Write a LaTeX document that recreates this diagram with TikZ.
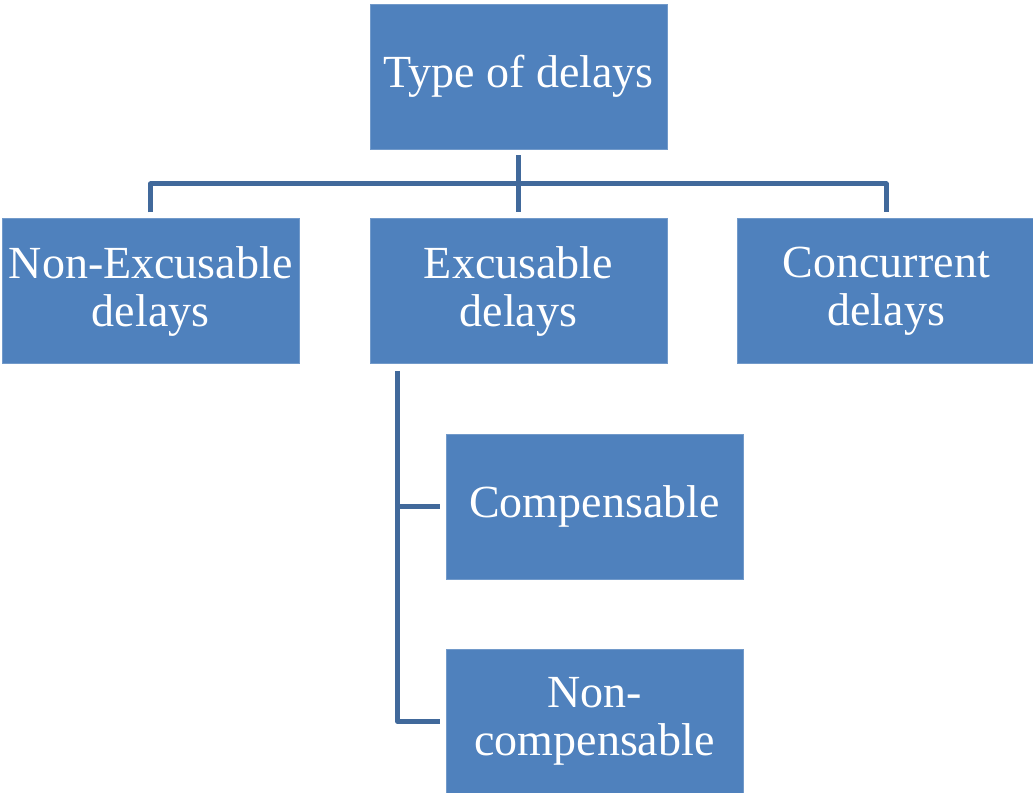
\documentclass[tikz,border=0pt]{standalone}
\usepackage{fontspec}
\setmainfont{Liberation Serif}
\usetikzlibrary{positioning, calc}
\definecolor{boxblue}{HTML}{4F81BD}
\definecolor{linkblue}{HTML}{41699B}
\tikzset{
  delaybox/.style={
    rectangle,
    fill=boxblue,
    draw=boxblue!80!white,
    line width=0.6pt,
    text=white,
    align=center,
    minimum width=222.75pt,
    minimum height=108.75pt,
    inner sep=0pt,
    font=\fontsize{34.5}{36}\selectfont
  },
  link/.style={draw=linkblue, line width=3.75pt, line join=round}
}

\begin{document}
\begin{tikzpicture}
  \useasboundingbox (0,0) rectangle (774.75pt,-594.75pt);

  \node[delaybox] (type) at (388.875pt,-57.375pt) {Type of delays};
  \node[delaybox, below=51.75pt of type] (excus) {Excusable\\delays};
  \node[delaybox, left=52.5pt of excus] (nonexcus) {Non-Excusable\\delays};
  \node[delaybox, right=52.5pt of excus] (concur) {Concurrent\\delays};
  \node[delaybox, below=52pt of excus, xshift=57pt] (comp) {Compensable};
  \node[delaybox, below=52pt of comp] (noncomp) {Non-\\compensable};

  \coordinate (bus) at ($(type.south)!0.5!(excus.north)$);
  \coordinate (branch) at ([xshift=21pt, yshift=-5pt]excus.south west);

  \draw[link] ([yshift=-4.5pt]type.south) -- ([yshift=4.5pt]excus.north);
  \draw[link] ([yshift=4.5pt]nonexcus.north) |- (bus) -| ([yshift=4.5pt]concur.north);
  \draw[link] (branch) |- ([xshift=-4.5pt]noncomp.west);
  \draw[link] (branch |- comp.west) -- ([xshift=-4.5pt]comp.west);
\end{tikzpicture}
\end{document}
